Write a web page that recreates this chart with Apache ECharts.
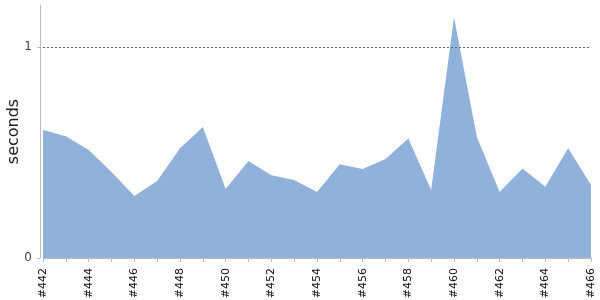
<!DOCTYPE html>
<html>
<head>
<meta charset="utf-8">
<script src="https://cdn.jsdelivr.net/npm/echarts@6/dist/echarts.min.js"></script>
<style>
  html, body { margin: 0; padding: 0; background: #fff; }
  #main { width: 600px; height: 300px; }
</style>
</head>
<body>
<div id="main"></div>
<script>
var builds = ['#442', '#443', '#444', '#445', '#446', '#447', '#448', '#449', '#450', '#451',
  '#452', '#453', '#454', '#455', '#456', '#457', '#458', '#459', '#460', '#461',
  '#462', '#463', '#464', '#465', '#466'];
var seconds = [0.607, 0.578, 0.512, 0.408, 0.294, 0.365, 0.52, 0.621, 0.327, 0.46,
  0.393, 0.37, 0.313, 0.445, 0.422, 0.469, 0.567, 0.322, 1.142, 0.574,
  0.313, 0.425, 0.338, 0.52, 0.346];
var yTicks = [0, 1];

var chart = echarts.init(document.getElementById('main'), null, { renderer: 'canvas' });

var option = {
  animation: false,
  grid: { left: 43, right: 9, top: 5, bottom: 42, outerBoundsMode: 'none', containLabel: false },
  xAxis: {
    type: 'category',
    data: builds,
    boundaryGap: false,
    offset: 5,
    axisLine: { lineStyle: { color: '#bbb' } },
    axisTick: { alignWithLabel: true, interval: 0, length: 4, lineStyle: { color: '#bbb' } },
    axisLabel: {
      interval: 1,
      rotate: 90,
      color: '#111',
      fontSize: 11,
      fontFamily: 'DejaVu Sans',
      margin: 5
    },
    splitLine: { show: false }
  },
  yAxis: {
    type: 'value',
    min: 0,
    max: 1.2,
    interval: 1,
    offset: 3,
    name: 'seconds',
    nameLocation: 'middle',
    nameRotate: 90,
    nameGap: 18,
    nameMoveOverlap: false,
    nameTextStyle: { fontSize: 16, color: '#222', fontFamily: 'DejaVu Sans' },
    axisLine: { show: true, lineStyle: { color: '#bbb' } },
    axisTick: { show: true, length: 3, customValues: yTicks, lineStyle: { color: '#bbb' } },
    axisLabel: {
      customValues: yTicks,
      color: '#444',
      fontSize: 12,
      fontFamily: 'DejaVu Sans',
      margin: 8
    },
    splitLine: { show: false }
  },
  series: [
    {
      type: 'line',
      data: seconds,
      symbol: 'none',
      lineStyle: { width: 0 },
      areaStyle: { color: '#8fb1da', opacity: 1 },
      markLine: {
        silent: true,
        symbol: 'none',
        label: { show: false },
        lineStyle: { color: '#666', type: [2, 2], width: 1 },
        data: [{ yAxis: 1 }]
      }
    }
  ]
};

chart.setOption(option);
</script>
</body>
</html>
